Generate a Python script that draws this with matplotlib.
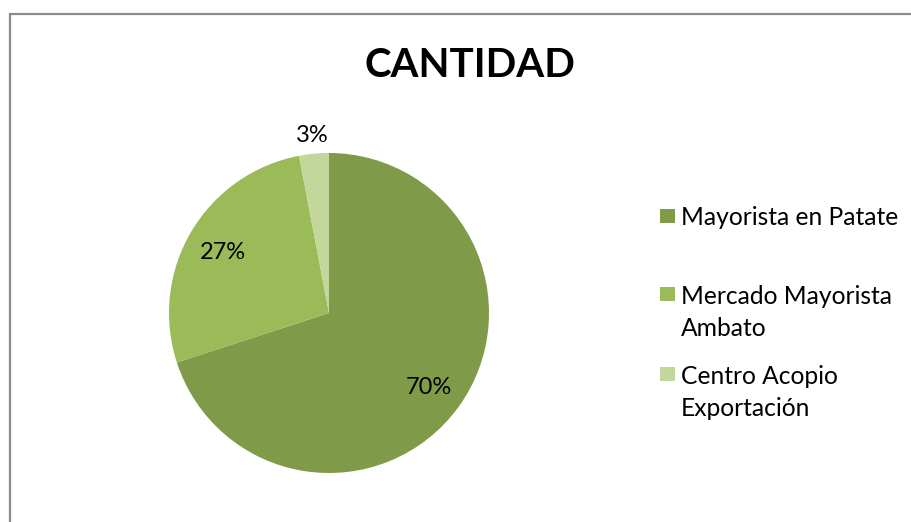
import matplotlib
matplotlib.use("Agg")
import numpy as np
from matplotlib import pyplot as plt
from matplotlib.patches import Rectangle

plt.rcParams['font.family'] = ['Lato', 'DejaVu Sans']

title = "CANTIDAD"
labels = ["Mayorista en Patate", "Mercado Mayorista\nAmbato", "Centro Acopio\nExportación"]
values = [70, 27, 3]
colors = ["#7f9a48", "#9bbb59", "#c3d69b"]

W, H = 912, 522
fig = plt.figure(figsize=(W / 100, H / 100), dpi=100)

# chart border (right and bottom edges fall outside the picture)
fig.patches.append(Rectangle((10.5 / W, -0.1), 1.2, (H - 13.5) / H + 0.1,
                             transform=fig.transFigure, fill=False,
                             edgecolor="#8c8c8c", linewidth=1.6))

# pie axes: centre (329, 313), radius 160 px
cx, cy, r = 329, 313, 160
ax = fig.add_axes([(cx - r) / W, (H - cy - r) / H, 2 * r / W, 2 * r / H])
wedges, texts, autotexts = ax.pie(values, colors=colors, startangle=90, counterclock=False,
                                  autopct="%d%%", pctdistance=0.77,
                                  textprops=dict(fontsize=17, color="black"),
                                  wedgeprops=dict(linewidth=0))
ax.set_xlim(-1, 1)
ax.set_ylim(-1, 1)
ax.set_aspect("equal")
for t in autotexts:
    t.set_va("center_baseline")

# small slice label goes outside
w = wedges[2]
mid = np.deg2rad((w.theta1 + w.theta2) / 2)
autotexts[2].set_position((1.13 * np.cos(mid), 1.13 * np.sin(mid)))

fig.text(470 / W, 1 - 77 / H, title, ha="center", va="baseline",
         fontsize=29, fontweight="bold")

# legend (va="baseline" sits on the last line, so shift by the line count)
first_baselines = [225, 303, 383]
line_step = 33
for lab, col, y in zip(labels, colors, first_baselines):
    nl = lab.count("\n")
    fig.patches.append(Rectangle((660 / W, 1 - (y - 2) / H), 15 / W, 14 / H,
                                 transform=fig.transFigure, facecolor=col, edgecolor="none"))
    fig.text(681 / W, 1 - (y + nl * line_step) / H, lab, ha="left", va="baseline",
             fontsize=17.7, linespacing=1.5)

fig.savefig("out.png", dpi=100)
